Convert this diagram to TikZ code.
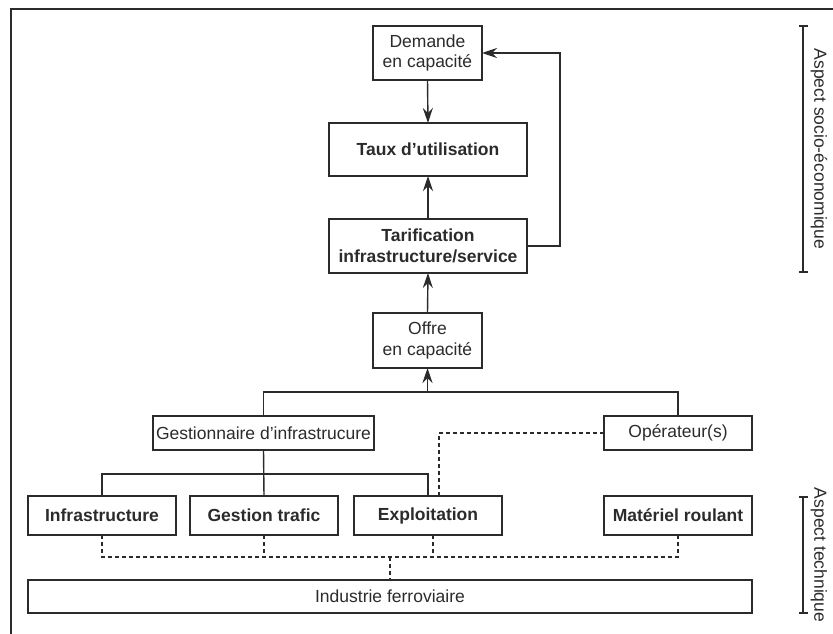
\documentclass[tikz,border=0pt]{standalone}
\usepackage{fontspec}
\setmainfont{Liberation Sans}
\usetikzlibrary{arrows.meta}
\definecolor{ink}{HTML}{2B2B2B}
\begin{document}
\begin{tikzpicture}[x=1pt,y=-1pt,
  every node/.style={inner sep=0pt,outer sep=0pt,text=ink,font=\fontsize{17.5}{20.5}\selectfont},
  plain/.style={draw=ink,line width=1.4pt,rectangle,align=center},
  strong/.style={draw=ink,line width=1.9pt,rectangle,align=center,font=\fontsize{17.5}{20.5}\selectfont\bfseries},
  conn/.style={draw=ink,line width=1.4pt},
  arr/.style={conn,-{Stealth[length=15pt,width=10pt,inset=5pt]}},
  dashline/.style={draw=ink,line width=1.3pt,dash pattern=on 4pt off 3pt},
  bracketline/.style={draw=ink,line width=1.4pt}]
\useasboundingbox (0,0) rectangle (833,634);
% frame
\draw[ink,line width=1.4pt] (11,640) -- (11,9) -- (840,9);
% nodes
\node[plain,minimum width=109,minimum height=54] (dem) at (427.5,53) {Demande\\en capacité};
\node[strong,minimum width=198,minimum height=53] (taux) at (428,149.5) {Taux d’utilisation};
\node[strong,minimum width=198,minimum height=54] (tarif) at (428,246) {Tarification\\infrastructure/service};
\node[plain,minimum width=109,minimum height=55] (offre) at (427.5,340.5) {Offre\\en capacité};
\node[plain,minimum width=221,minimum height=34] (gest) at (263.5,433) {Gestionnaire d’infrastrucure};
\node[plain,minimum width=148,minimum height=34] (oper) at (678,433) {Opérateur(s)};
\node[strong,minimum width=148,minimum height=39] (infra) at (102,515.5) {Infrastructure};
\node[strong,minimum width=148,minimum height=39] (gtraf) at (264,515.5) {Gestion trafic};
\node[strong,minimum width=148,minimum height=39] (expl) at (428,515.5) {Exploitation};
\node[strong,minimum width=148,minimum height=39] (mat) at (678,515.5) {Matériel roulant};
\node[plain,minimum width=724,minimum height=33] (indus) at (390,596.5) {Industrie ferroviaire};
% coordinates
\coordinate (fbR) at (560,246);
\coordinate (fbT) at (560,53);
\coordinate (brL) at (263.5,392);
\coordinate (brM) at (427.5,392);
\coordinate (brR) at (678,392);
\coordinate (hL) at (102,474);
\coordinate (hR) at (428,474);
\coordinate (dO) at (439,433);
\coordinate (dL) at (102,557);
\coordinate (dG) at (264,557);
\coordinate (dE) at (433,557);
\coordinate (dR) at (678,557);
\coordinate (dI) at (390,557);
% arrows
\draw[arr] (dem.south) -- (taux.north);
\draw[arr] (tarif.north) -- (taux.south);
\draw[arr] (offre.north) -- (tarif.south);
\draw[arr] (tarif.east) -- (fbR) -- (fbT) -- (dem.east);
\draw[arr] (brM) -- (offre.south);
% tree lines
\draw[conn] (gest.north) -- (brL) -- (brR) -- (oper.north);
\draw[conn] (gest.south) -- (gtraf.north);
\draw[conn] (infra.north) -- (hL) -- (hR) -- (expl.north);
% dashed
\draw[dashline] (oper.west) -- (dO) -- (dO |- expl.north);
\draw[dashline] (infra.south) -- (dL) -- (dR) -- (mat.south);
\draw[dashline] (gtraf.south) -- (dG);
\draw[dashline] (dE |- expl.south) -- (dE);
\draw[dashline] (dI) -- (indus.north);
% brackets
\coordinate (b1t) at (803,26);
\coordinate (b1b) at (803,272);
\coordinate (b2t) at (803,497);
\coordinate (b2b) at (803,613);
\draw[bracketline] (b1t) -- (b1b);
\draw[bracketline] ([xshift=-4]b1t) -- ([xshift=5]b1t);
\draw[bracketline] ([xshift=-4]b1b) -- ([xshift=5]b1b);
\draw[bracketline] (b2t) -- (b2b);
\draw[bracketline] ([xshift=-4]b2t) -- ([xshift=5]b2t);
\draw[bracketline] ([xshift=-4]b2b) -- ([xshift=5]b2b);
\node[rotate=-90] (lab1) at (819,149) {Aspect socio-économique};
\node[rotate=-90] (lab2) at (819,555) {Aspect technique};
\end{tikzpicture}
\end{document}
